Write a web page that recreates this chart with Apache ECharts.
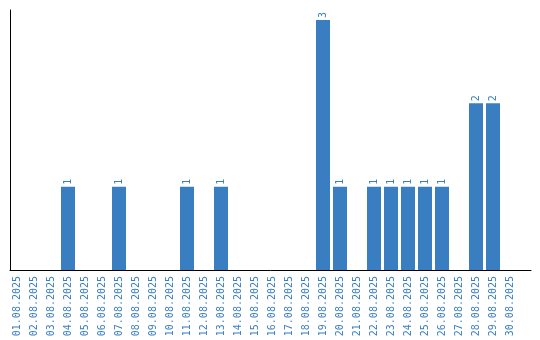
<!DOCTYPE html>
<html>
<head>
<meta charset="utf-8">
<script src="https://cdn.jsdelivr.net/npm/echarts@6/dist/echarts.min.js"></script>
<style>html,body{margin:0;padding:0;background:#fff;}#c{width:540px;height:340px;}</style>
</head>
<body>
<div id="c"></div>
<script>
var categories = ['01.08.2025','02.08.2025','03.08.2025','04.08.2025','05.08.2025','06.08.2025','07.08.2025','08.08.2025','09.08.2025','10.08.2025','11.08.2025','12.08.2025','13.08.2025','14.08.2025','15.08.2025','16.08.2025','17.08.2025','18.08.2025','19.08.2025','20.08.2025','21.08.2025','22.08.2025','23.08.2025','24.08.2025','25.08.2025','26.08.2025','27.08.2025','28.08.2025','29.08.2025','30.08.2025'];
var counts = [0,0,0,1,0,0,1,0,0,0,1,0,1,0,0,0,0,0,3,1,0,1,1,1,1,1,0,2,2,0];
var yMax = 3.12;

var blue = '#3a7ec2';
var font = 'DejaVu Sans Mono';
var chart = echarts.init(document.getElementById('c'), null, {renderer: 'canvas'});
chart.setOption({
  animation: false,
  grid: [
    {left: 8.5, width: 510, top: 10, bottom: 70},
    {left: 10, right: 9, top: 10, bottom: 70}
  ],
  xAxis: [
    {type: 'category', gridIndex: 0, data: categories,
     axisLine: {show: false}, axisTick: {show: false},
     axisLabel: {rotate: 90, interval: 0, margin: 6, color: blue, fontFamily: font, fontSize: 10}},
    {type: 'value', gridIndex: 1, min: 0, max: 1,
     axisLine: {show: true, onZero: false, lineStyle: {color: '#000', width: 1}},
     axisTick: {show: false}, axisLabel: {show: false}, splitLine: {show: false}}
  ],
  yAxis: [
    {type: 'value', gridIndex: 0, min: 0, max: yMax, show: false, splitLine: {show: false}},
    {type: 'value', gridIndex: 1, min: 0, max: 1,
     axisLine: {show: true, lineStyle: {color: '#000', width: 1}},
     axisTick: {show: false}, axisLabel: {show: false}, splitLine: {show: false}}
  ],
  series: [{
    type: 'bar', xAxisIndex: 0, yAxisIndex: 0,
    data: counts, barWidth: 14,
    itemStyle: {color: blue},
    label: {
      show: true, position: 'top', rotate: 90, align: 'left', verticalAlign: 'middle',
      distance: 2, color: blue, fontFamily: font, fontSize: 10,
      formatter: function (p) { return p.value ? String(p.value) : ''; }
    }
  }]
});
</script>
</body>
</html>
